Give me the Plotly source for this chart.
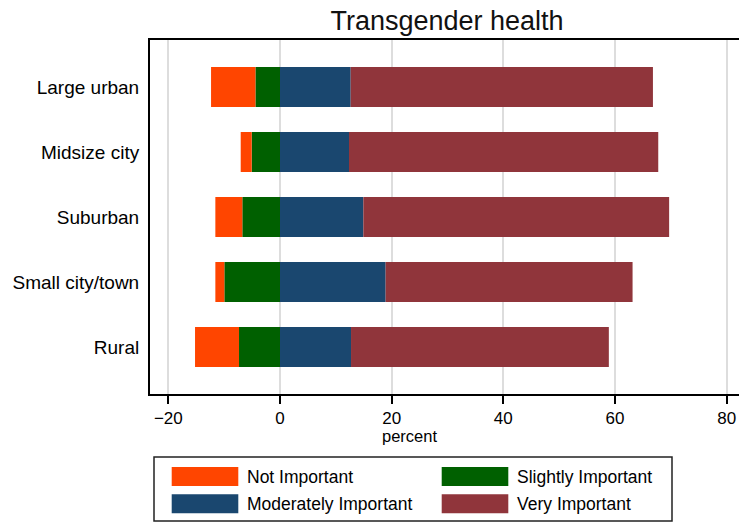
import plotly.graph_objects as go

# data (percent)
categories = ["Large urban", "Midsize city", "Suburban", "Small city/town", "Rural"]
not_important = [7.95, 1.97, 4.83, 1.61, 7.88]
slightly_important = [4.40, 5.07, 6.75, 9.97, 7.34]
moderately_important = [12.66, 12.36, 14.93, 18.92, 12.72]
very_important = [54.14, 55.39, 54.77, 44.23, 46.18]
x_ticks = [-20, 0, 20, 40, 60, 80]

legend_names = ["Not Important", "Slightly Important", "Moderately Important", "Very Important"]
colors = ["#FF4500", "#006000", "#1A476F", "#90353B"]

FONT = "Liberation Sans, Arial, sans-serif"

W, H = 739, 522
# plot area in pixels
L, R, T, B = 150, 739, 40, 394


def px_x(p):
    return (p - L) / (R - L)


def px_y(p):
    return (B - p) / (B - T)


fig = go.Figure()

# negatives first so "Slightly" sits next to zero, then "Not" further out
fig.add_trace(go.Bar(y=categories, x=[-v for v in slightly_important], orientation="h",
                     name=legend_names[1], marker=dict(color=colors[1], line=dict(width=0))))
fig.add_trace(go.Bar(y=categories, x=[-v for v in not_important], orientation="h",
                     name=legend_names[0], marker=dict(color=colors[0], line=dict(width=0))))
fig.add_trace(go.Bar(y=categories, x=moderately_important, orientation="h",
                     name=legend_names[2], marker=dict(color=colors[2], line=dict(width=0))))
fig.add_trace(go.Bar(y=categories, x=very_important, orientation="h",
                     name=legend_names[3], marker=dict(color=colors[3], line=dict(width=0))))

# legend drawn by hand to get the big Stata-style swatches
shapes = [dict(type="rect", xref="paper", yref="paper",
               x0=px_x(154), x1=px_x(672), y0=px_y(521), y1=px_y(457),
               line=dict(color="#222222", width=1.5), fillcolor="white")]
annotations = []
slots = [(171.7, 476.5), (441.7, 476.5), (171.7, 503.8), (441.7, 503.8)]
for (sx, sy), i in zip(slots, range(4)):
    shapes.append(dict(type="rect", xref="paper", yref="paper",
                       x0=px_x(sx), x1=px_x(sx + 66.6), y0=px_y(sy + 9.5), y1=px_y(sy - 9.5),
                       line=dict(width=0), fillcolor=colors[i]))
    annotations.append(dict(text=legend_names[i], xref="paper", yref="paper",
                            x=px_x(sx + 73), y=px_y(sy), xanchor="left", yanchor="middle",
                            showarrow=False, font=dict(size=17.5, color="black", family=FONT)))

annotations.append(dict(text="percent", xref="paper", yref="paper",
                        x=px_x(409), y=px_y(436), xanchor="center", yanchor="middle",
                        showarrow=False, font=dict(size=16.5, color="black", family=FONT)))

fig.update_layout(
    width=W, height=H,
    margin=dict(l=L, r=W - R, t=T, b=H - B),
    barmode="relative",
    bargap=0.385,
    showlegend=False,
    paper_bgcolor="white",
    plot_bgcolor="white",
    font=dict(family=FONT, color="black"),
    title=dict(text="Transgender health", x=px_x(447), xref="paper", xanchor="center",
               y=1 - 21 / H, yref="container", yanchor="middle",
               font=dict(size=27, color="#111111", family=FONT)),
    shapes=shapes,
    annotations=annotations,
)

fig.update_xaxes(
    range=[(L - 280) / 5.583, (R - 280) / 5.583],
    tickvals=x_ticks,
    ticks="outside", ticklen=8, tickwidth=1.5, tickcolor="black",
    tickfont=dict(size=17, color="black"),
    showgrid=True, gridcolor="#DDDDDD", gridwidth=1.5,
    zeroline=False,
    showline=True, linecolor="black", linewidth=2, mirror=True,
)
fig.update_yaxes(
    categoryorder="array", categoryarray=categories,
    range=[4.723, -0.723],
    ticks="", tickfont=dict(size=19, color="black"),
    ticklabelstandoff=5,
    showgrid=False, zeroline=False,
    showline=True, linecolor="black", linewidth=2,
)

# drop the default 8px page margin so the figure fills the window exactly
fig.write_html("out.html",
               config={"displayModeBar": False},
               post_script="document.body.style.margin='0';document.body.style.overflow='hidden';")
